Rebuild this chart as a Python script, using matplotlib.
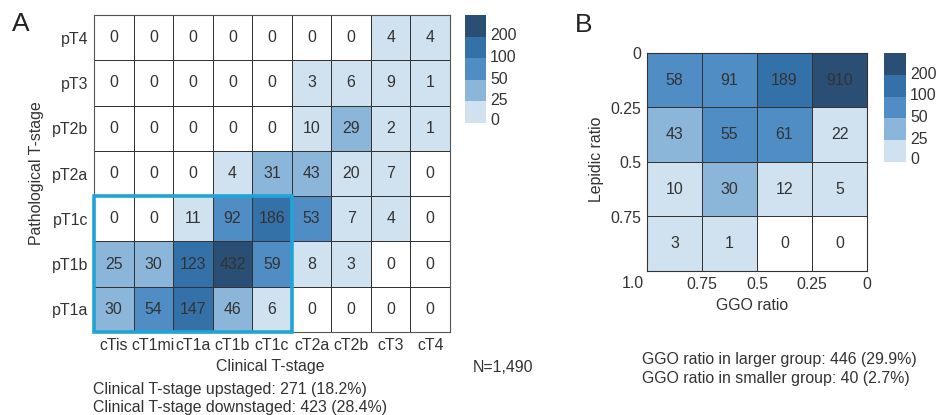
import numpy as np
import matplotlib
matplotlib.use("Agg")
import matplotlib.pyplot as plt
from matplotlib.colors import ListedColormap, BoundaryNorm
from matplotlib.patches import Rectangle

plt.rcParams['font.family'] = ['Liberation Sans', 'DejaVu Sans']

# %% data
clin_stages = ['cTis', 'cT1mi', 'cT1a', 'cT1b', 'cT1c', 'cT2a', 'cT2b', 'cT3', 'cT4']
path_stages = ['pT4', 'pT3', 'pT2b', 'pT2a', 'pT1c', 'pT1b', 'pT1a']
counts_a = np.array([
    [0, 0, 0, 0, 0, 0, 0, 4, 4],
    [0, 0, 0, 0, 0, 3, 6, 9, 1],
    [0, 0, 0, 0, 0, 10, 29, 2, 1],
    [0, 0, 0, 4, 31, 43, 20, 7, 0],
    [0, 0, 11, 92, 186, 53, 7, 4, 0],
    [25, 30, 123, 432, 59, 8, 3, 0, 0],
    [30, 54, 147, 46, 6, 0, 0, 0, 0],
])

ggo_edges = [1.0, 0.75, 0.5, 0.25, 0.0]
lep_edges = [0.0, 0.25, 0.5, 0.75, 1.0]
counts_b = np.array([
    [58, 91, 189, 910],
    [43, 55, 61, 22],
    [10, 30, 12, 5],
    [3, 1, 0, 0],
])

cbar_labels = ['0', '25', '50', '100', '200']
text_a = ['Clinical T-stage upstaged: 271 (18.2%)',
          'Clinical T-stage downstaged: 423 (28.4%)']
text_b = ['GGO ratio in larger group: 446 (29.9%)',
          'GGO ratio in smaller group: 40 (2.7%)']

# %% colours
blues = ['#d0e1ef', '#8cb5da', '#508dc5', '#3371a8', '#2b4e74']
cmap = ListedColormap(['white'] + blues)
norm = BoundaryNorm([0, 1, 25, 50, 100, 200, 100000], cmap.N)
cbar_cmap = ListedColormap(blues)
txt_col = '#333333'
fs = 11.4

W, H = 940, 415
fig = plt.figure(figsize=(W / 100, H / 100), dpi=100)


def px_axes(x0, y0, x1, y1):
    return fig.add_axes([x0 / W, 1 - y1 / H, (x1 - x0) / W, (y1 - y0) / H])


def fig_text(x, y, s, **kw):
    fig.text(x / W, 1 - y / H, s, **kw)


def draw_cbar(x0, y0, x1, y1):
    cax = px_axes(x0, y0, x1, y1)
    cax.pcolormesh(np.arange(2), np.arange(6), np.arange(5).reshape(5, 1),
                   cmap=cbar_cmap, vmin=-0.5, vmax=4.5)
    cax.set_xticks([])
    cax.yaxis.tick_right()
    cax.set_yticks([0.18, 1.1, 2.1, 3.1, 4.1])
    cax.set_yticklabels(cbar_labels, fontsize=fs, color=txt_col)
    cax.tick_params(axis='y', length=0, pad=3)
    for s in cax.spines.values():
        s.set_visible(False)


# %% panel A
ax = px_axes(94, 15, 450, 332)
ax.pcolormesh(np.arange(10), np.arange(8), counts_a, cmap=cmap, norm=norm,
              edgecolors='#333333', linewidth=0.7)
ax.set_xlim(0, 9)
ax.set_ylim(7, 0)
for i in range(counts_a.shape[0]):
    for j in range(counts_a.shape[1]):
        ax.text(j + 0.5, i + 0.5, str(counts_a[i, j]), ha='center', va='center',
                fontsize=fs, color=txt_col)
ax.set_xticks(np.arange(9) + 0.5)
ax.set_xticklabels(clin_stages, fontsize=fs, color=txt_col)
ax.set_yticks(np.arange(7) + 0.5)
ax.set_yticklabels(path_stages, fontsize=fs, color=txt_col)
ax.tick_params(length=0, pad=4)
for s in ax.spines.values():
    s.set_color('#555555')
    s.set_linewidth(0.8)
ax.add_patch(Rectangle((0, 4), 5, 3, fill=False, edgecolor='#22a3d6', lw=2.6,
                       clip_on=False, zorder=5))

draw_cbar(465, 15, 486, 123)

fig_text(12, 24, 'A', fontsize=19, va='center', ha='left', color='#222222')
fig_text(270, 366, 'Clinical T-stage', fontsize=fs, ha='center', va='center', color=txt_col)
fig_text(37, 173, 'Pathological T-stage', fontsize=fs, ha='center', va='center',
         rotation=90, color=txt_col)
fig_text(93, 389, text_a[0], fontsize=fs, ha='left', va='center', color=txt_col)
fig_text(93, 407, text_a[1], fontsize=fs, ha='left', va='center', color=txt_col)
fig_text(473, 367, 'N=1,490', fontsize=fs, ha='left', va='center', color=txt_col)

# %% panel B
bx = px_axes(647, 53, 867, 271)
bx.pcolormesh(ggo_edges, lep_edges, counts_b, cmap=cmap, norm=norm,
              edgecolors='#333333', linewidth=0.7)
bx.set_xlim(1, 0)
bx.set_ylim(1, 0)
for i in range(counts_b.shape[0]):
    for j in range(counts_b.shape[1]):
        xc = (ggo_edges[j] + ggo_edges[j + 1]) / 2
        yc = (lep_edges[i] + lep_edges[i + 1]) / 2
        bx.text(xc, yc, str(counts_b[i, j]), ha='center', va='center',
                fontsize=fs, color=txt_col)
bx.set_xticks(ggo_edges[1:])
bx.set_xticklabels(['0.75', '0.5', '0.25', '0'], fontsize=fs, color=txt_col)
bx.set_yticks(lep_edges[:-1])
bx.set_yticklabels(['0', '0.25', '0.5', '0.75'], fontsize=fs, color=txt_col)
bx.tick_params(length=0, pad=4)
for s in bx.spines.values():
    s.set_color('#333333')
    s.set_linewidth(0.8)

draw_cbar(884, 53, 906, 162)

fig_text(633, 283, '1.0', fontsize=fs, ha='center', va='center', color=txt_col)
fig_text(575, 25, 'B', fontsize=19, va='center', ha='left', color='#222222')
fig_text(752, 305, 'GGO ratio', fontsize=fs, ha='center', va='center', color=txt_col)
fig_text(597, 159, 'Lepidic ratio', fontsize=fs, ha='center', va='center',
         rotation=90, color=txt_col)
fig_text(642, 359, text_b[0], fontsize=fs, ha='left', va='center', color=txt_col)
fig_text(642, 378, text_b[1], fontsize=fs, ha='left', va='center', color=txt_col)

fig.savefig('out.png', dpi=100)
